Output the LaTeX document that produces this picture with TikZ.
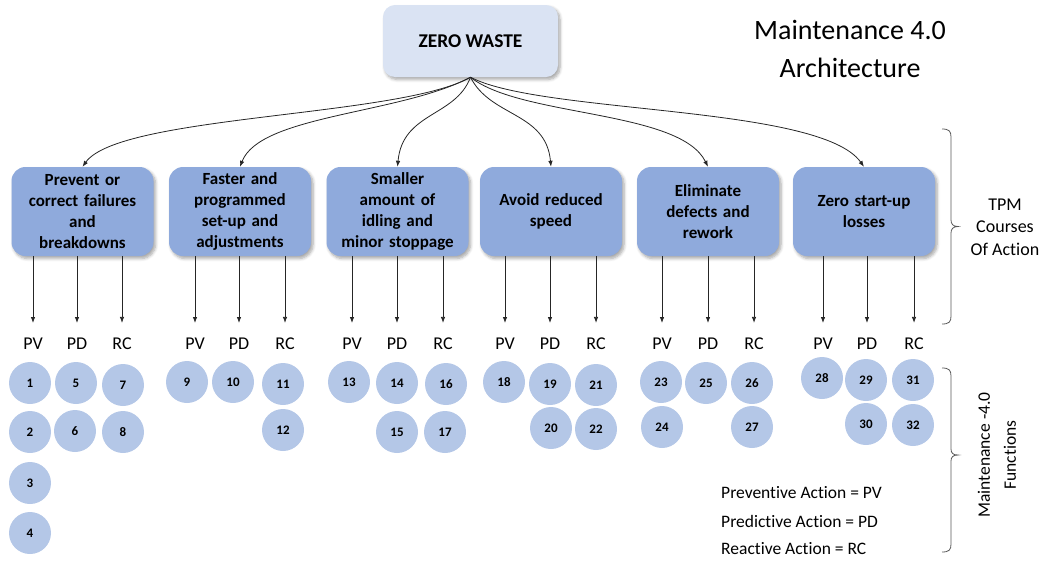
\documentclass[tikz,border=0pt]{standalone}
\usepackage{fontspec}
\setmainfont[Ligatures={NoCommon}]{Carlito}
\usetikzlibrary{arrows.meta,shadows.blur}

\definecolor{zwfill}{HTML}{DAE3F3}
\definecolor{boxfill}{HTML}{8FAADC}
\definecolor{circfill}{HTML}{B4C7E7}
\definecolor{linecol}{HTML}{262626}
\definecolor{bracecol}{HTML}{595959}

\begin{document}
\begin{tikzpicture}[x=1pt,y=-1pt,
  softshadow/.style={blur shadow={shadow xshift=2pt,shadow yshift=-2.5pt,shadow blur radius=3pt,shadow blur steps=6,shadow opacity=35}},
  zerobox/.style={rounded corners=12pt,fill=zwfill,minimum width=175pt,minimum height=72pt,
    font=\bfseries\fontsize{19.5}{22}\selectfont,softshadow},
  course/.style={rounded corners=14pt,fill=boxfill,minimum width=142pt,minimum height=89pt,
    text width=130pt,align=center,font=\bfseries\fontsize{17}{21}\selectfont,softshadow},
  lab/.style={font=\fontsize{18}{20}\selectfont,inner sep=1pt},
  num/.style={circle,fill=circfill,minimum size=42pt,inner sep=0pt,
    font=\bfseries\fontsize{13}{15}\selectfont},
  link/.style={draw=linecol,line width=0.8pt,-{Latex[length=6pt,width=4.5pt]}},
  drop/.style={link,shorten >=14pt},
  bracket/.style={draw=bracecol,line width=0.8pt},
  side/.style={align=center,font=\fontsize{18}{22.5}\selectfont},
  legend/.style={anchor=west,font=\fontsize{17.5}{19}\selectfont,inner sep=0pt}]
\useasboundingbox (0,0) rectangle (1043,560);

% title
\node[align=center,font=\fontsize{28}{38}\selectfont] (title) at (850,49)
  {Maintenance 4.0\\Architecture};

% goal
\node[zerobox] (zw) at (470.5,41) {ZERO WASTE};

% TPM courses of action
\node[course] (b1) at (82.5,211.5) {Prevent or\\correct failures\\and\\breakdowns};
\node[course] (b2) at (240,211.5) {Faster and\\programmed\\set-up and\\adjustments};
\node[course] (b3) at (397.5,211.5) {Smaller\\amount of\\idling and\\minor stoppage};
\node[course] (b4) at (551,211.5) {Avoid reduced\\speed};
\node[course] (b5) at (708,211.5) {Eliminate\\defects and\\rework};
\node[course] (b6) at (864,211.5) {Zero start-up\\losses};

% curved links from the goal
\draw[link] (zw.south) .. controls +(-70,40) and +(37,-52) .. (b1.north);
\draw[link] (zw.south) .. controls +(-70,37) and +(20,-52) .. (b2.north);
\draw[link] (zw.south) .. controls +(-15,40) and +(5,-55) .. (b3.north);
\draw[link] (zw.south) .. controls +(20,40) and +(-5,-55) .. (b4.north);
\draw[link] (zw.south) .. controls +(50,40) and +(-28,-57) .. (b5.north);
\draw[link] (zw.south) .. controls +(70,37) and +(-44,-62) .. (b6.north);

% PV / PD / RC labels under each course
\foreach \b/\xa/\xb/\xc in {1/33/77/122, 2/195/239/285, 3/352/397/443,
                            4/505/550/596, 5/662/708/754, 6/823/867/914}{
  \node[lab] (pv\b) at (\xa,344) {PV};
  \node[lab] (pd\b) at (\xb,344) {PD};
  \node[lab] (rc\b) at (\xc,344) {RC};
  \draw[drop] (b\b.south -| pv\b) -- (pv\b.north);
  \draw[drop] (b\b.south -| pd\b) -- (pd\b.north);
  \draw[drop] (b\b.south -| rc\b) -- (rc\b.north);
}

% Maintenance 4.0 functions
\foreach \n/\x/\y in {1/30/383, 2/30/432, 3/30/483, 4/30/533,
                      5/76/383, 6/75/431, 7/123/385, 8/123/432,
                      9/187/382, 10/233/382, 11/283/384, 12/283/430,
                      13/349/382, 14/397/383, 15/397/432, 16/446/384, 17/445/432,
                      18/504/382, 19/550/384, 20/551/428, 21/596/385, 22/596/429,
                      23/661/382, 24/662/427, 25/706/383, 26/752/383, 27/752/427,
                      28/822/378, 29/866/380, 30/866/424, 31/913/380, 32/913/425}{
  \node[num] (f\n) at (\x,\y) {\n};
}

% legend
\node[legend] (lg1) at (721,493) {Preventive Action = PV};
\node[legend] (lg2) at (721,521) {Predictive Action = PD};
\node[legend] (lg3) at (721,549) {Reactive Action = RC};

% side brackets
\draw[bracket] (942,129) .. controls (949,129) and (951,131) .. (951,137) -- (951,220)
  .. controls (951,224) and (953,226.5) .. (958,226.5)
  .. controls (953,226.5) and (951,229) .. (951,233) -- (951,316)
  .. controls (951,322) and (949,324) .. (942,324);
\draw[bracket] (942,368) .. controls (949,368) and (951,370) .. (951,376) -- (951,449)
  .. controls (951,453) and (953,455) .. (958,455)
  .. controls (953,455) and (951,457) .. (951,461) -- (951,544)
  .. controls (951,550) and (949,552) .. (942,552);

\node[side] (tpm) at (1005,227) {TPM\\Courses\\Of Action};
\node[side,rotate=90,font=\fontsize{17.5}{26}\selectfont] (m40) at (997,455)
  {Maintenance -4.0\\Functions};
\end{tikzpicture}
\end{document}
